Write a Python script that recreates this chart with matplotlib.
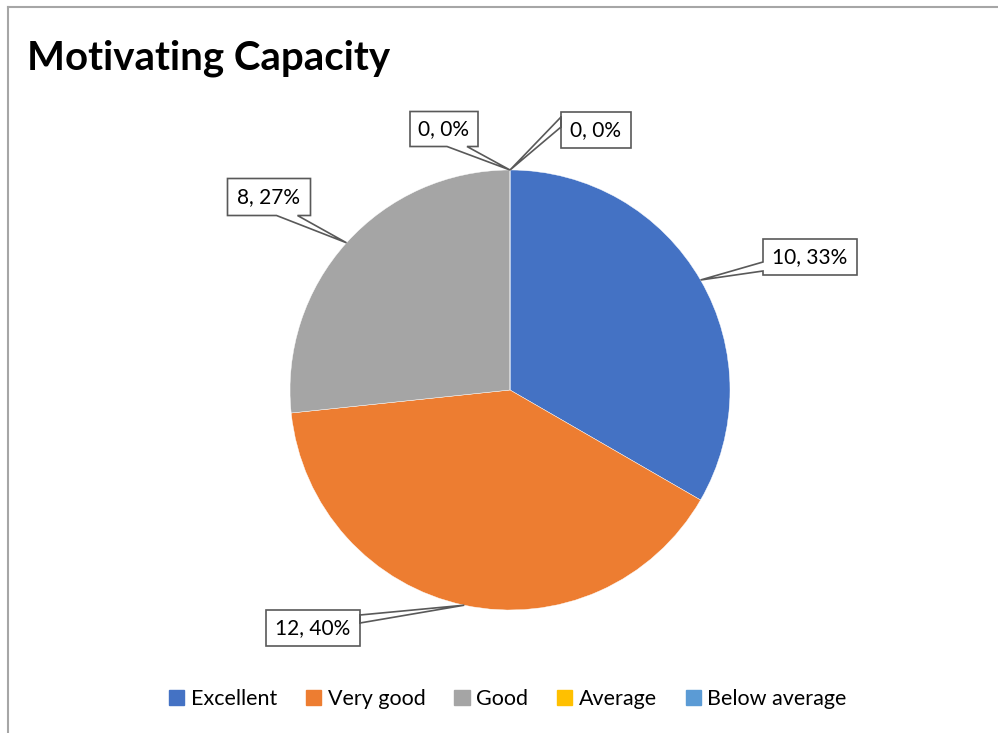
import matplotlib.pyplot as plt
import matplotlib.patches as patches
import numpy as np

# data
categories = ["Excellent", "Very good", "Good", "Average", "Below average"]
counts = [10, 12, 8, 0, 0]
colors = ["#4472C4", "#ED7D31", "#A5A5A5", "#FFC000", "#5B9BD5"]

# label box layout (pixel coords, y from top): centre x, centre y, w, h, side, base offsets along edge
label_boxes = [
    (810, 257, 94, 36, "left", (13, 4)),
    (313, 628, 94, 36, "right", (5, 13)),
    (269, 197, 83, 37, "bottom", (49, 70)),
    (596, 130, 70, 36, "left", (21, 31)),
    (444, 129, 68, 35, "bottom", (37, 57)),
]

W, H = 998, 733
fig = plt.figure(figsize=(W / 100, H / 100), dpi=100)
ax = fig.add_axes([0, 0, 1, 1])

cx, cy, r = 510, H - 390, 220

wedges, _ = ax.pie(counts, colors=colors, startangle=90, counterclock=False,
                   center=(cx, cy), radius=r, frame=True,
                   wedgeprops=dict(edgecolor="white", linewidth=0.3))
ax.set_xlim(0, W)
ax.set_ylim(0, H)
ax.axis('off')

total = sum(counts)
font = ["Lato", "DejaVu Sans"]


def callout(box, tip, text):
    bx, by, w, h, side, (o1, o2) = box
    by = H - by
    x0, x1 = bx - w / 2, bx + w / 2
    y0, y1 = by - h / 2, by + h / 2
    # corners starting bottom-left, pointer inserted on the chosen side
    if side == "left":
        pts = [(x0, y0), (x1, y0), (x1, y1), (x0, y1),
               (x0, y0 + o1), tip, (x0, y0 + o2)]
    elif side == "right":
        pts = [(x0, y0), (x1, y0), (x1, y1 - o1), tip, (x1, y1 - o2),
               (x1, y1), (x0, y1)]
    else:  # bottom
        pts = [(x0, y0), (x0 + o1, y0), tip, (x0 + o2, y0),
               (x1, y0), (x1, y1), (x0, y1)]
    poly = patches.Polygon(pts, closed=True, fc="white", ec="#595959", lw=1.2, zorder=5)
    ax.add_patch(poly)
    ax.text(bx, by, text, ha='center', va='center', fontsize=15, family=font,
            color="#000000", zorder=6)


for w, n, box in zip(wedges, counts, label_boxes):
    mid = np.deg2rad((w.theta1 + w.theta2) / 2)
    tip = (cx + r * np.cos(mid), cy + r * np.sin(mid))
    pct = round(100 * n / total)
    callout(box, tip, f"{n}, {pct}%")

# title
fig.text(27 / W, 1 - 58 / H, "Motivating Capacity", ha='left', va='center',
         fontsize=29, fontweight='bold', family=font, color="#000000")

# chart border (top and left visible)
fig.add_artist(plt.Line2D([8 / W, 1], [1 - 7 / H, 1 - 7 / H], color="#a6a6a6", lw=1.5))
fig.add_artist(plt.Line2D([8 / W, 8 / W], [0, 1 - 7 / H], color="#a6a6a6", lw=1.5))

handles = [patches.Patch(color=c) for c in colors]
fig.legend(handles, categories, loc='center', bbox_to_anchor=(508 / W, 1 - 699 / H),
           ncol=5, frameon=False, handlelength=0.7, handleheight=0.7,
           handletextpad=0.3, columnspacing=1.35, prop=dict(family=font, size=15.5))

fig.savefig("out.png", dpi=100)
